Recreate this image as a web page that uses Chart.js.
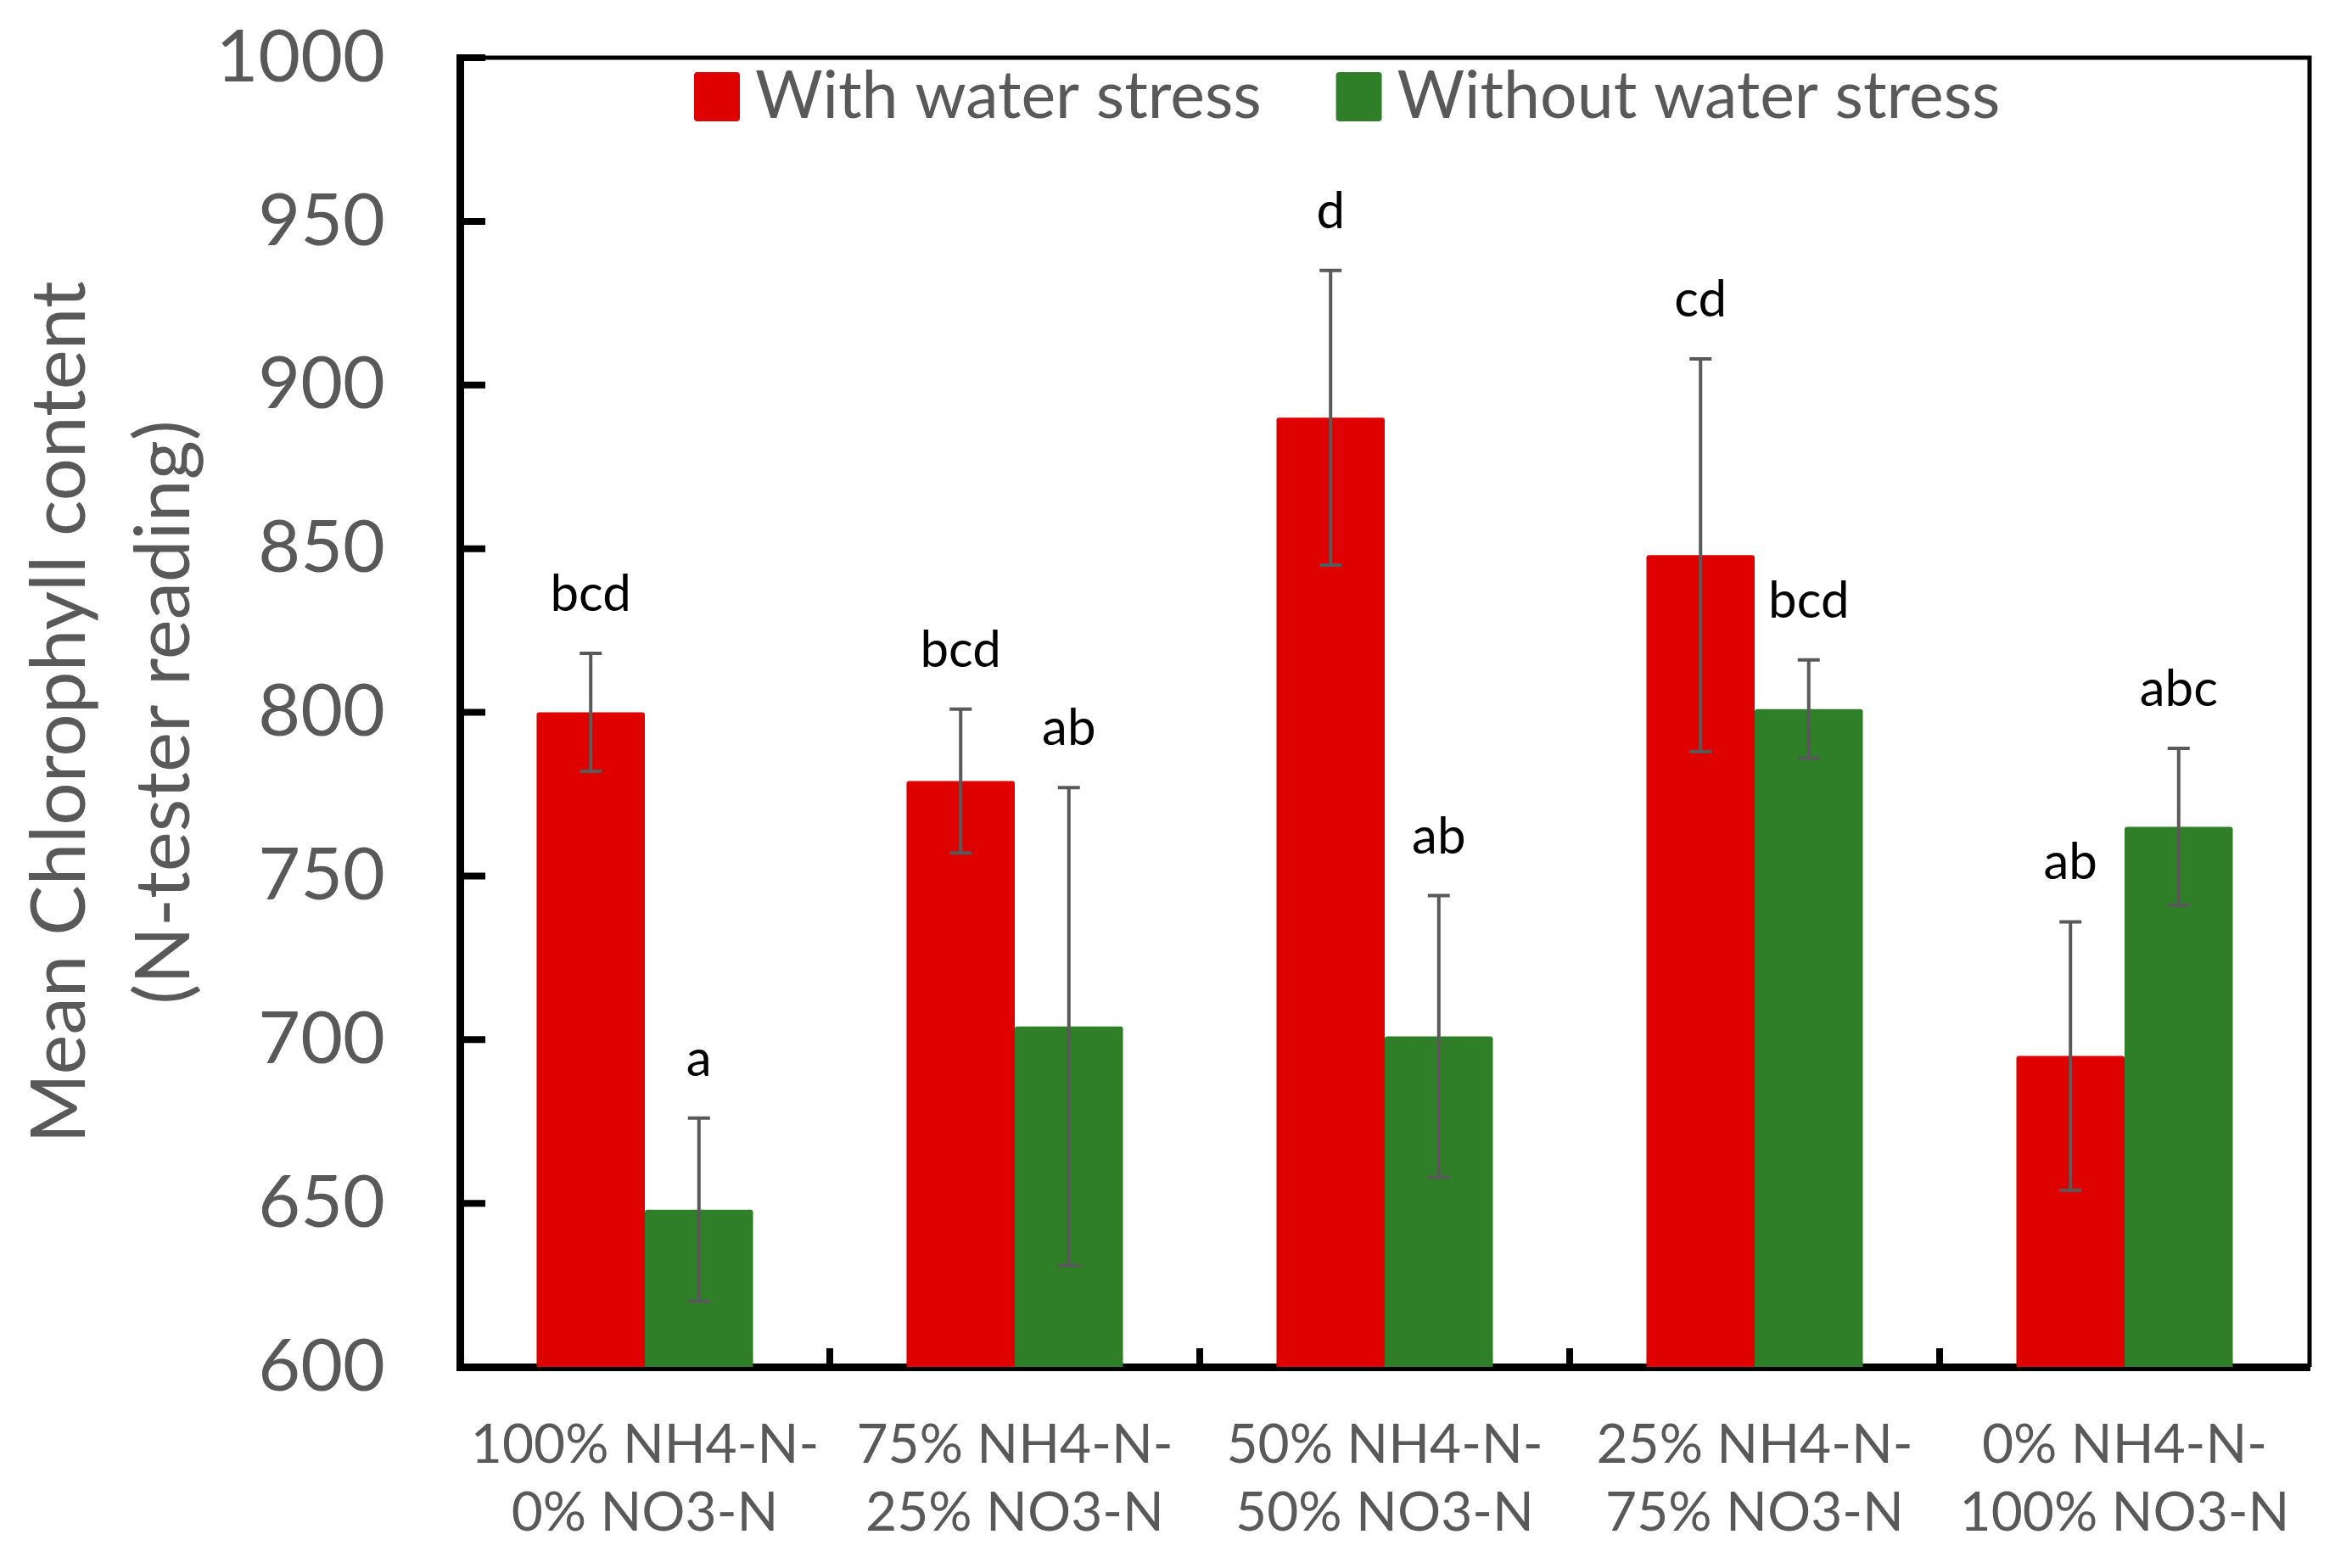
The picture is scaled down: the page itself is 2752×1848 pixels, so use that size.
<!DOCTYPE html>
<html>
<head>
<meta charset="utf-8">
<script src="https://cdn.jsdelivr.net/npm/chart.js@4.4.1/dist/chart.umd.min.js"></script>
<style>
  html, body { margin: 0; padding: 0; background: #fff; }
  #wrap { width: 2752px; height: 1848px; position: relative; }
</style>
</head>
<body>
<div id="wrap"><canvas id="chart"></canvas></div>
<script>
// ---------------------------------------------------------------------------
// Data
// ---------------------------------------------------------------------------
const categories = [
  ['100% NH4-N-', '0% NO3-N'],
  ['75% NH4-N-', '25% NO3-N'],
  ['50% NH4-N-', '50% NO3-N'],
  ['25% NH4-N-', '75% NO3-N'],
  ['0% NH4-N-', '100% NO3-N'],
];
const withStress      = [800, 779, 890, 848, 695];
const withStressErr   = [18, 22, 45, 60, 41];
const withStressSig   = ['bcd', 'bcd', 'd', 'cd', 'ab'];
const withoutStress    = [648, 704, 701, 801, 765];
const withoutStressErr = [28, 73, 43, 15, 24];
const withoutStressSig = ['a', 'ab', 'ab', 'bcd', 'abc'];
const yTicks = [600, 650, 700, 750, 800, 850, 900, 950, 1000];

const FONT = "Lato, 'Noto Sans', sans-serif";
const GREY = '#595959';
const RED = '#DF0000';
const GREEN = '#2E7F27';

// ---------------------------------------------------------------------------
// Plugins: frame + inner ticks, error bars with letters, inside legend
// ---------------------------------------------------------------------------
const frameTicks = {
  id: 'frameTicks',
  afterDraw(chart) {
    const { ctx, chartArea: a, scales: { x, y } } = chart;
    ctx.save();
    ctx.strokeStyle = '#000';
    ctx.lineWidth = 5;
    ctx.beginPath();
    ctx.moveTo(a.left, a.top);
    ctx.lineTo(a.right, a.top);
    ctx.lineTo(a.right, a.bottom);
    ctx.stroke();

    ctx.lineWidth = 8;
    ctx.beginPath();
    y.ticks.forEach(t => {
      const py = y.getPixelForValue(t.value);
      ctx.moveTo(a.left, py);
      ctx.lineTo(a.left + 30, py);
    });
    for (let i = 1; i < categories.length; i++) {
      const px = (x.getPixelForTick(i - 1) + x.getPixelForTick(i)) / 2;
      ctx.moveTo(px, a.bottom);
      ctx.lineTo(px, a.bottom - 22);
    }
    ctx.stroke();
    ctx.restore();
  },
};

const errorBars = {
  id: 'errorBars',
  afterDatasetsDraw(chart) {
    const { ctx, scales: { y } } = chart;
    ctx.save();
    chart.data.datasets.forEach((ds, di) => {
      const meta = chart.getDatasetMeta(di);
      meta.data.forEach((bar, i) => {
        const v = ds.data[i], e = ds.errors[i];
        const top = y.getPixelForValue(v + e);
        const bot = y.getPixelForValue(v - e);
        ctx.strokeStyle = GREY;
        ctx.lineWidth = 4;
        ctx.beginPath();
        ctx.moveTo(bar.x, top); ctx.lineTo(bar.x, bot);
        ctx.moveTo(bar.x - 13, top); ctx.lineTo(bar.x + 13, top);
        ctx.moveTo(bar.x - 13, bot); ctx.lineTo(bar.x + 13, bot);
        ctx.stroke();

        ctx.fillStyle = '#000';
        ctx.font = `60px ${FONT}`;
        ctx.textAlign = 'center';
        ctx.textBaseline = 'alphabetic';
        ctx.fillText(ds.letters[i], bar.x, top - 50);
      });
    });
    ctx.restore();
  },
};

const insideLegend = {
  id: 'insideLegend',
  afterDraw(chart) {
    const { ctx, chartArea: a } = chart;
    ctx.save();
    ctx.font = `77px ${FONT}`;
    ctx.textBaseline = 'middle';
    ctx.textAlign = 'left';
    let x = a.left + 276;
    const cy = a.top + 46;
    chart.data.datasets.forEach(ds => {
      ctx.fillStyle = ds.backgroundColor;
      ctx.beginPath();
      ctx.roundRect(x, cy - 29, 54, 58, 4);
      ctx.fill();
      x += 72;
      ctx.fillStyle = GREY;
      ctx.fillText(ds.label, x, cy);
      x += ctx.measureText(ds.label).width + 88;
    });
    ctx.restore();
  },
};

// ---------------------------------------------------------------------------
// Chart
// ---------------------------------------------------------------------------
new Chart(document.getElementById('chart'), {
  type: 'bar',
  data: {
    labels: categories,
    datasets: [
      {
        label: 'With water stress',
        data: withStress,
        errors: withStressErr,
        letters: withStressSig,
        backgroundColor: RED,
        borderRadius: 3,
        borderSkipped: 'bottom',
      },
      {
        label: 'Without water stress',
        data: withoutStress,
        errors: withoutStressErr,
        letters: withoutStressSig,
        backgroundColor: GREEN,
        borderRadius: 3,
        borderSkipped: 'bottom',
      },
    ],
  },
  options: {
    responsive: true,
    maintainAspectRatio: false,
    animation: false,
    devicePixelRatio: 1,
    categoryPercentage: 0.585,
    barPercentage: 1.0,
    layout: { padding: { top: 68, right: 30, left: 0, bottom: 0 } },
    plugins: {
      legend: { display: false },
      tooltip: { enabled: false },
    },
    scales: {
      x: {
        grid: { display: false, drawTicks: false },
        border: { color: '#000', width: 9 },
        ticks: { color: GREY, padding: 52, font: { family: FONT, size: 64, lineHeight: 1.25 } },
        afterFit: s => { s.height = 237; s.paddingLeft = 0; s.paddingRight = 0; },
      },
      y: {
        min: 600,
        max: 1000,
        afterBuildTicks: s => { s.ticks = yTicks.map(v => ({ value: v })); },
        grid: { display: false, drawTicks: false },
        border: { color: '#000', width: 9 },
        ticks: {
          color: GREY,
          padding: 88,
          font: { family: FONT, size: 86 },
          callback: v => String(v),
        },
        title: {
          display: true,
          text: ['Mean Chlorophyll content', '(N-tester reading)'],
          color: GREY,
          font: { family: FONT, size: 89, lineHeight: 1.38 },
          padding: { top: 10, bottom: 0 },
        },
        afterFit: s => { s.width = 542; s.paddingTop = 0; s.paddingBottom = 0; },
      },
    },
  },
  plugins: [errorBars, frameTicks, insideLegend],
});
</script>
</body>
</html>
